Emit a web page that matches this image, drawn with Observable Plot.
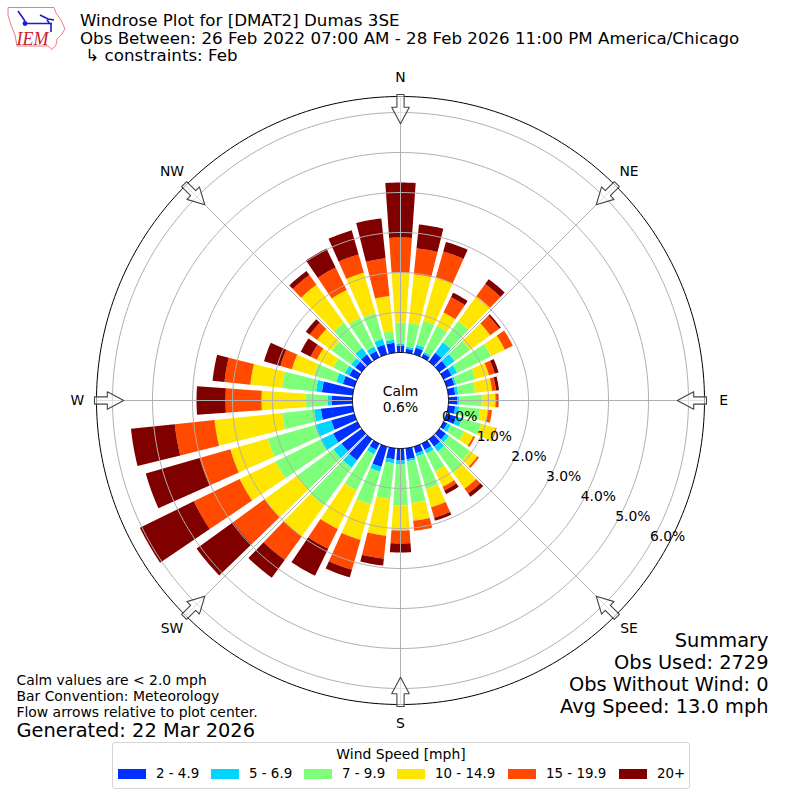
<!DOCTYPE html>
<html>
<head>
<meta charset="utf-8">
<script src="https://cdn.jsdelivr.net/npm/d3@7"></script>
<script src="https://cdn.jsdelivr.net/npm/@observablehq/plot@0.6"></script>
<style>
html,body{margin:0;padding:0;background:#fff;width:800px;height:800px;overflow:hidden;font-family:"DejaVu Sans",sans-serif;color:#000}
#header{position:relative;height:70px;width:800px}
#header svg{position:absolute;left:0;top:0}
.t{position:absolute;left:80px;top:12px;font-size:16.67px;line-height:17.5px;white-space:pre}
#chart{height:670px;width:800px}
#chart svg{display:block}
#legend{position:absolute;left:112px;top:742px;width:576px;height:45px;border:1px solid #d5d5d5;border-radius:3px;background:#fff}
#legend .lt{position:absolute;left:0;right:0;top:3px;text-align:center;font-size:13.9px;line-height:16px}
#legend .sw{position:absolute;top:26px;width:28px;height:10px}
#legend .lb{position:absolute;top:23px;font-size:13.4px;line-height:16px;white-space:pre}
</style>
</head>
<body>
<div id="header">
<svg width="80" height="60" viewBox="0 0 80 60">
<path d="M8 7.5 L54 7.5 L56 13 L61 20 L65 29 L61 35 L57 39 L56 45 L52 49.5 L48 46 L17 46 L15 35 L11 25 L8 15 Z" fill="#fff" stroke="#e57f86" stroke-width="1"/>
<path d="M18 11 L25 21 M25 23.5 L52 23.5 M40 15 L48 19 L54 20 M47 20 L50 24 M51 24 L51 32" fill="none" stroke="#1c1cd0" stroke-width="1.6"/>
<circle cx="25" cy="23.5" r="2.4" fill="#1c1cd0"/>
<text x="16.5" y="44.5" font-family="Liberation Serif" font-style="italic" font-size="18" fill="#c8202c">IEM</text>
</svg>
<div class="t">Windrose Plot for [DMAT2] Dumas 3SE
Obs Between: 26 Feb 2022 07:00 AM - 28 Feb 2026 11:00 PM America/Chicago
 ↳ constraints: Feb</div>
</div>
<div id="chart"></div>
<div id="legend"></div>
<script>
const directions = d3.range(0, 360, 10);
const speedBins = ["2 - 4.9", "5 - 6.9", "7 - 9.9", "10 - 14.9", "15 - 19.9", "20+"];
const binColors = ["#0030ff", "#00d4ff", "#7dff7a", "#ffe600", "#ff4a00", "#800000"];
const speed2 = [.175,.1,.175,.1,.275,.225,.225,.2,.175,.225,.175,.25,.1,.2,.225,.175,.175,.275,.3,.275,.525,.175,.65,.625,.675,.6,.8,.525,.775,.3,.225,.2,.225,.175,.25,.25];
const speed5 = [.05,.05,.075,.05,.325,.25,.15,.05,.075,.05,.1,.15,.1,.1,.15,.1,.075,.05,.1,.1,.125,.125,.225,.25,.35,.425,.175,.1,.15,.175,.125,.125,.2,.125,.15,.075];
const speed7 = [.525,.6,.625,.725,.65,.475,.95,.5,.425,.575,.525,.5,.375,.65,.65,.5,.85,1.05,1.025,.9,.85,1,1.175,1.125,1.25,1.225,.8,.55,.85,.575,.325,.6,.775,.8,.675,.225];
const speed10 = [1.25,1.225,1.125,.375,.775,.625,.375,.35,.425,.325,.2,.375,.25,.225,.5,.425,.475,.45,.625,.925,.925,1.075,.95,1,1,.975,1.7,1.1,.8,.575,.45,.45,1.175,.775,1.05,.875];
const speed15 = [.875,.65,.675,.425,.375,.275,.225,.15,.1,.05,.1,.025,.05,.05,.15,.1,.275,.25,.325,.575,.775,.55,.725,.975,1.275,.8,1,.9,.65,.3,.175,.225,.3,.625,.475,.95];
const speed20 = [1.375,.6,.25,.125,.15,.05,0,.1,.075,.025,0,0,0,0,.1,.1,.075,0,.225,.175,.2,.75,.55,1.125,1.5,1.4,1.1,.725,.3,.425,.275,.125,.125,.525,.625,1];
const series = [speed2, speed5, speed7, speed10, speed15, speed20];
const ringValues = [0, 1, 2, 3, 4, 5, 6];
const compassNames = ["N", "NE", "E", "SE", "S", "SW", "W", "NW"];
const compassAngles = [0, 45, 90, 135, 180, 225, 270, 315];
const calmText = "Calm\n0.6%";
const noteText = "Calm values are < 2.0 mph\nBar Convention: Meteorology\nFlow arrows relative to plot center.";
const generatedText = "Generated: 22 Mar 2026";
const summaryText = "Summary\nObs Used: 2729\nObs Without Wind: 0\nAvg Speed: 13.0 mph";

// Polar layout in chart units (percent of observations).
const hole = 1.2, rimValue = 6.4, barWidth = 8;
const rad = d => d * Math.PI / 180;
const px = (deg, p) => (hole + p) * Math.sin(rad(deg));
const py = (deg, p) => (hole + p) * Math.cos(rad(deg));
const pt = (deg, p) => ({x: px(deg, p), y: py(deg, p)});

const barPolys = [];
directions.forEach((dir, i) => {
  let base = 0;
  series.forEach((vals, s) => {
    const v = vals[i];
    if (v > 0) {
      const a = d3.range(0, 9).map(k => dir - barWidth / 2 + k * barWidth / 8);
      const id = dir + "-" + s;
      for (const t of a) barPolys.push({id, bin: speedBins[s], ...pt(t, base)});
      for (const t of a.slice().reverse()) barPolys.push({id, bin: speedBins[s], ...pt(t, base + v)});
    }
    base += v;
  });
});
const circle = p => d3.range(0, 361, 1).map(t => ({id: p, ...pt(t, p)}));
const gridRings = ringValues.slice(1).flatMap(circle);
const spokes = compassAngles.map(a => ({x1: px(a, 0), y1: py(a, 0), x2: px(a, rimValue), y2: py(a, rimValue)}));

// Hollow flow arrows on the rim, pointing to the centre.
const arrowProfile = [[0, 7.65], [.09, 7.65], [.09, 7.33], [.22, 7.33], [0, 6.92], [-.22, 7.33], [-.09, 7.33], [-.09, 7.65]];
const arrows = compassAngles.flatMap(a => arrowProfile.map(([w, r]) => {
  const c = Math.cos(rad(a)), s = Math.sin(rad(a));
  return {id: a, x: r * s + w * c, y: r * c - w * s};
}));

const chart = Plot.plot({
  width: 800, height: 670, margin: 0,
  style: {fontFamily: "DejaVu Sans", background: "#fff", color: "#000"},
  x: {axis: null, domain: [-10, 10]},
  y: {axis: null, domain: [-8.5, 8.25]},
  color: {domain: speedBins, range: binColors},
  marks: [
    Plot.line(barPolys, {x: "x", y: "y", z: "id", fill: "bin", stroke: null, curve: "linear-closed"}),
    Plot.line(gridRings, {x: "x", y: "y", z: "id", stroke: "#b0b0b0", strokeWidth: 1}),
    Plot.link(spokes, {x1: "x1", y1: "y1", x2: "x2", y2: "y2", stroke: "#b0b0b0", strokeWidth: 1}),
    Plot.line(circle(0), {x: "x", y: "y", stroke: "#000", strokeWidth: 1}),
    Plot.line(circle(rimValue), {x: "x", y: "y", stroke: "#000", strokeWidth: 1}),
    Plot.line(arrows, {x: "x", y: "y", z: "id", fill: "#fff", fillOpacity: .6, stroke: "#444", strokeWidth: 1.1, curve: "linear-closed"}),
    Plot.text(ringValues, {x: d => px(120, d), y: d => py(120, d), text: d => d.toFixed(1) + "%", textAnchor: "start", lineAnchor: "bottom", fontSize: 13.9, dy: -4}),
    Plot.text(compassNames, {x: (d, i) => 8.08 * Math.sin(rad(compassAngles[i])), y: (d, i) => 8.08 * Math.cos(rad(compassAngles[i])), text: d => d, fontSize: 13.9}),
    Plot.text([calmText], {x: 0, y: 0, text: d => d, fontSize: 13.9, dy: -2, lineHeight: 1.15}),
    Plot.text([noteText], {frameAnchor: "bottom-left", text: d => d, dx: 16, dy: -24, fontSize: 13.9, lineHeight: 1.15, textAnchor: "start"}),
    Plot.text([generatedText], {frameAnchor: "bottom-left", text: d => d, dx: 16, dy: -4, fontSize: 19.4, textAnchor: "start"}),
    Plot.text([summaryText], {frameAnchor: "bottom-right", text: d => d, dx: -32, dy: -28, fontSize: 19.4, lineHeight: 1.13, textAnchor: "end"})
  ]
});
document.getElementById("chart").appendChild(chart);

const legend = document.getElementById("legend");
legend.innerHTML = '<div class="lt">Wind Speed [mph]</div>';
const swatchLeft = [5, 98, 191, 284, 395, 506];
speedBins.forEach((b, i) => {
  legend.insertAdjacentHTML("beforeend",
    `<div class="sw" style="left:${swatchLeft[i]}px;background:${binColors[i]}"></div><div class="lb" style="left:${swatchLeft[i] + 38}px">${b}</div>`);
});
</script>
</body>
</html>
